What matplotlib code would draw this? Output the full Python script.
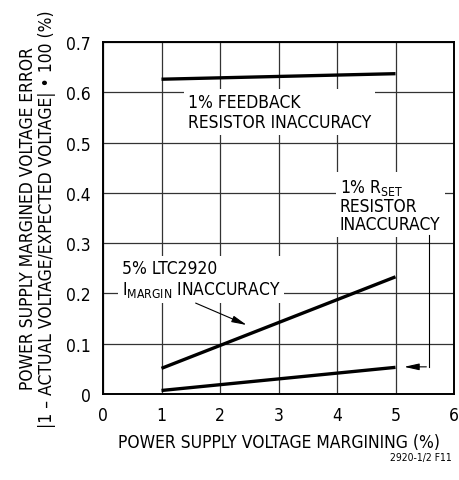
import matplotlib
matplotlib.use('Agg')
import matplotlib.pyplot as plt

plt.rcParams['font.family'] = ['DejaVu Sans']
plt.rcParams['font.stretch'] = 'condensed'
plt.rcParams['mathtext.default'] = 'regular'

# dados
margem = [1, 5]                 # % de margem da fonte
erro_feedback = [0.626, 0.637]  # 1% resistor de feedback
erro_imargin = [0.051, 0.233]   # 5% LTC2920 IMARGIN
erro_rset = [0.007, 0.053]      # 1% resistor RSET

x_ticks = [0, 1, 2, 3, 4, 5, 6]
y_ticks = [0, 0.1, 0.2, 0.3, 0.4, 0.5, 0.6, 0.7]
y_tick_labels = ['0', '0.1', '0.2', '0.3', '0.4', '0.5', '0.6', '0.7']

fig = plt.figure(figsize=(4.59, 4.81), dpi=100)
ax = fig.add_axes([103 / 459, 1 - 395 / 481, 351 / 459, 352 / 481])

# linhas de dados
for serie in (erro_feedback, erro_imargin, erro_rset):
    ax.plot(margem, serie, color='black', lw=2.4, solid_capstyle='butt', zorder=5)

ax.set_xlim(0, 6)
ax.set_ylim(0, 0.7)
ax.set_xticks(x_ticks)
ax.set_yticks(y_ticks)
ax.set_yticklabels(y_tick_labels)
ax.tick_params(length=0, labelsize=12.5, pad=9)
ax.grid(True, color='#333333', lw=0.9)
ax.set_axisbelow(True)
for s in ax.spines.values():
    s.set_linewidth(1.4)

ax.set_xlabel('POWER SUPPLY VOLTAGE MARGINING (%)', fontsize=12.5, labelpad=6)
ax.set_ylabel('POWER SUPPLY MARGINED VOLTAGE ERROR\n'
              '|1 \u2013 ACTUAL VOLTAGE/EXPECTED VOLTAGE| \u2022 100 (%)',
              fontsize=12.5, labelpad=7, linespacing=1.05)

caixa = dict(facecolor='white', edgecolor='none', pad=3)

ax.text(1.45, 0.598, '1% FEEDBACK\nRESISTOR INACCURACY', fontsize=12.5,
        va='top', ha='left', bbox=caixa, zorder=4, linespacing=1.12)
ax.text(4.05, 0.432, '1% R$_{SET}$\nRESISTOR\nINACCURACY', fontsize=12.5,
        va='top', ha='left', bbox=caixa, zorder=4, linespacing=1.02)
ax.text(0.32, 0.268, '5% LTC2920\nI$_{MARGIN}$ INACCURACY', fontsize=12.5,
        va='top', ha='left', bbox=caixa, zorder=4, linespacing=1.12)

# setas
seta = dict(arrowstyle='-|>,head_length=0.9,head_width=0.2', color='black', lw=0.8)
ax.annotate('', xy=(2.5, 0.135), xytext=(1.54, 0.183), arrowprops=seta, zorder=6)
ax.plot([5.57, 5.57], [0.316, 0.054], color='black', lw=0.8, zorder=6)
ax.annotate('', xy=(5.1, 0.054), xytext=(5.575, 0.054), arrowprops=seta, zorder=6)

fig.text(452 / 459, 1 - 458 / 481, '2920-1/2 F11', fontsize=7.5, ha='right', va='center')

fig.savefig('out.png', dpi=100)
